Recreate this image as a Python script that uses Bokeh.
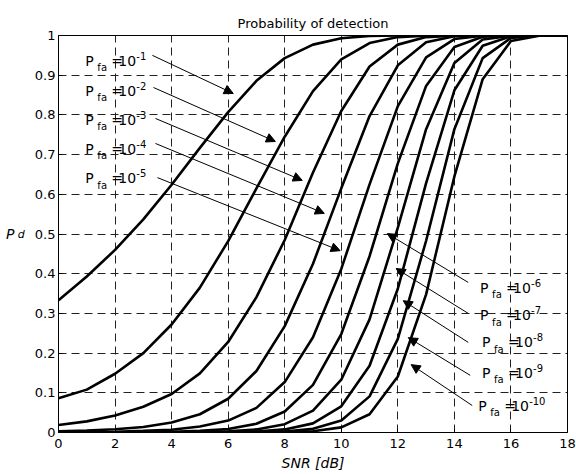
from bokeh.plotting import figure
from bokeh.models import ColumnDataSource, Arrow, NormalHead, FixedTicker, LinearAxis
from bokeh.core.properties import value
from bokeh.embed import file_html
from bokeh.resources import INLINE

# ---------------- data ----------------
snr_db = list(range(0, 19))

pd_pfa_1e1 = [0.333, 0.393, 0.460, 0.537, 0.624, 0.717, 0.807, 0.886, 0.943, 0.977,
              0.993, 0.999, 1.0, 1.0, 1.0, 1.0, 1.0, 1.0, 1.0]
pd_pfa_1e2 = [0.086, 0.108, 0.148, 0.200, 0.272, 0.365, 0.482, 0.615, 0.745, 0.860,
              0.940, 0.981, 0.996, 0.9996, 1.0, 1.0, 1.0, 1.0, 1.0]
pd_pfa_1e3 = [0.019, 0.028, 0.043, 0.065, 0.097, 0.149, 0.228, 0.341, 0.485, 0.655,
              0.810, 0.922, 0.977, 0.996, 0.9997, 1.0, 1.0, 1.0, 1.0]
pd_pfa_1e4 = [0.003, 0.005, 0.008, 0.014, 0.025, 0.046, 0.085, 0.155, 0.268, 0.425,
              0.615, 0.797, 0.925, 0.983, 0.998, 1.0, 1.0, 1.0, 1.0]
pd_pfa_1e5 = [0.0006, 0.001, 0.002, 0.004, 0.007, 0.015, 0.030, 0.062, 0.127, 0.240,
              0.412, 0.625, 0.822, 0.945, 0.991, 0.9994, 1.0, 1.0, 1.0]
pd_pfa_1e6 = [0.0001, 0.0002, 0.0003, 0.0006, 0.0015, 0.004, 0.009, 0.022, 0.053, 0.120,
              0.248, 0.444, 0.678, 0.873, 0.971, 0.997, 0.9999, 1.0, 1.0]
pd_pfa_1e7 = [0.0, 0.0, 0.0001, 0.0001, 0.0003, 0.0009, 0.0028, 0.0078, 0.021, 0.055,
              0.133, 0.285, 0.516, 0.764, 0.931, 0.990, 0.9995, 1.0, 1.0]
pd_pfa_1e8 = [0.0, 0.0, 0.0, 0.0, 0.0001, 0.0002, 0.0007, 0.0025, 0.0078, 0.023,
              0.066, 0.168, 0.362, 0.628, 0.862, 0.974, 0.998, 1.0, 1.0]
pd_pfa_1e9 = [0.0, 0.0, 0.0, 0.0, 0.0, 0.0, 0.0002, 0.0007, 0.0026, 0.0092,
              0.030, 0.091, 0.236, 0.483, 0.764, 0.943, 0.994, 0.9999, 1.0]
pd_pfa_1e10 = [0.0, 0.0, 0.0, 0.0, 0.0, 0.0, 0.0, 0.0002, 0.0008, 0.0033,
               0.013, 0.046, 0.141, 0.348, 0.645, 0.890, 0.986, 0.9995, 1.0]

curves = [pd_pfa_1e1, pd_pfa_1e2, pd_pfa_1e3, pd_pfa_1e4, pd_pfa_1e5,
          pd_pfa_1e6, pd_pfa_1e7, pd_pfa_1e8, pd_pfa_1e9, pd_pfa_1e10]

pfa_exponents = ["-1", "-2", "-3", "-4", "-5", "-6", "-7", "-8", "-9", "-10"]

x_ticks = [0, 2, 4, 6, 8, 10, 12, 14, 16, 18]
y_ticks = [0, 0.1, 0.2, 0.3, 0.4, 0.5, 0.6, 0.7, 0.8, 0.9, 1]

# annotation anchors (data coordinates)
label_x = [0.95, 0.95, 0.95, 0.95, 0.95, 14.91, 14.91, 14.98, 14.98, 14.84]
label_y = [0.937, 0.861, 0.788, 0.715, 0.640, 0.365, 0.295, 0.227, 0.151, 0.068]
arrow_x0 = [3.32, 3.36, 3.43, 3.43, 3.50, 14.49, 14.49, 14.49, 14.56, 14.63]
arrow_y0 = [0.950, 0.869, 0.791, 0.728, 0.642, 0.378, 0.300, 0.227, 0.144, 0.068]
arrow_x1 = [6.18, 7.67, 8.62, 9.40, 9.96, 11.63, 11.94, 12.19, 12.37, 12.47]
arrow_y1 = [0.854, 0.733, 0.635, 0.552, 0.458, 0.501, 0.413, 0.332, 0.239, 0.171]

FONT = "DejaVu Sans"

p = figure(width=576, height=474, x_range=(0, 18), y_range=(0, 1),
           output_backend="svg", toolbar_location=None,
           min_border_left=58, min_border_right=9, min_border_top=35, min_border_bottom=42,
           background_fill_color="white", border_fill_color="white")

p.title.text = "Probability of detection"
p.title.align = "center"
p.title.text_font = FONT
p.title.text_font_size = "13px"
p.title.text_font_style = "normal"
p.title.text_color = "black"

p.outline_line_color = "black"
p.outline_line_width = 1

for ax in (p.xaxis[0], p.yaxis[0]):
    ax.axis_line_color = "black"
    ax.major_tick_line_color = "black"
    ax.major_tick_in = 4
    ax.major_tick_out = 0
    ax.minor_tick_line_color = None
    ax.major_label_text_font = FONT
    ax.major_label_text_font_size = "13px"
    ax.major_label_text_color = "black"

p.xaxis.ticker = FixedTicker(ticks=x_ticks)
p.yaxis.ticker = FixedTicker(ticks=y_ticks)
p.yaxis.major_label_overrides = {0: "0", 1: "1"}
p.xaxis.major_label_standoff = 6
p.yaxis.major_label_standoff = 3
p.xaxis.axis_label = "SNR [dB]"
p.xaxis.axis_label_text_font = FONT
p.xaxis.axis_label_text_font_size = "14px"
p.xaxis.axis_label_text_font_style = "italic"
p.xaxis.axis_label_text_color = "black"
p.xaxis.axis_label_standoff = 4

# y label "P_d": subscript "d" as the main axis label, "P" on an outer, bare axis
yax = p.yaxis[0]
yax.axis_label = "d"
yax.axis_label_orientation = "horizontal"
yax.axis_label_text_font = FONT
yax.axis_label_text_font_size = "11px"
yax.axis_label_text_font_style = "italic"
yax.axis_label_text_color = "black"
yax.axis_label_text_baseline = "bottom"
yax.axis_label_standoff = 7

p_axis = LinearAxis(ticker=FixedTicker(ticks=[]), axis_label="P",
                    axis_label_orientation="horizontal",
                    axis_label_text_font=FONT, axis_label_text_font_size="14px",
                    axis_label_text_font_style="italic", axis_label_text_color="black",
                    axis_label_text_baseline="bottom",
                    axis_label_standoff=0, axis_line_color=None,
                    major_tick_line_color=None, minor_tick_line_color=None,
                    major_label_text_font_size="0px")
p.add_layout(p_axis, "left")

for g in (p.xgrid[0], p.ygrid[0]):
    g.grid_line_color = "#222222"
    g.grid_line_dash = "8 5"
    g.grid_line_width = 1
p.xgrid.ticker = FixedTicker(ticks=x_ticks)
p.ygrid.ticker = FixedTicker(ticks=y_ticks)

for pd_vals in curves:
    p.line(snr_db, pd_vals, line_color="black", line_width=2.6)

arrow_src = ColumnDataSource(dict(x0=arrow_x0, y0=arrow_y0, x1=arrow_x1, y1=arrow_y1))
p.add_layout(Arrow(end=NormalHead(size=9, fill_color="black", line_color="black", line_width=1),
                   x_start="x0", y_start="y0", x_end="x1", y_end="y1",
                   line_color="black", line_width=1, source=arrow_src))

lab_src = ColumnDataSource(dict(x=label_x, y=label_y, exp=pfa_exponents,
                                P=["P"] * 10, fa=["fa"] * 10, eq=["="] * 10, ten=["10"] * 10))
common = dict(source=lab_src, text_font=value(FONT), text_color="black",
              text_baseline="alphabetic", text_align="left")
p.text(x="x", y="y", text="P", x_offset=0, y_offset=0, text_font_size="14px", **common)
p.text(x="x", y="y", text="fa", x_offset=12, y_offset=7, text_font_size="10px", **common)
p.text(x="x", y="y", text="eq", x_offset=26, y_offset=0, text_font_size="14px", **common)
p.text(x="x", y="y", text="ten", x_offset=33, y_offset=0, text_font_size="14px", **common)
p.text(x="x", y="y", text="exp", x_offset=51, y_offset=-5, text_font_size="10px", **common)

open("out.html", "w").write(file_html(p, INLINE))
